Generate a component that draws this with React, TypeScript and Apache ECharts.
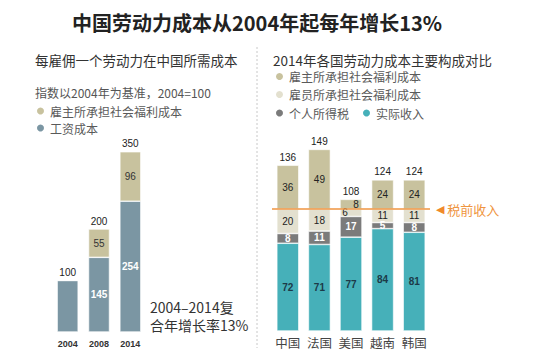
import React, { useEffect, useRef } from "react";
import * as echarts from "echarts";

const leftYears = ["2004", "2008", "2014"];
const leftWages = [100, 145, 254];
const leftWelfare = [0, 55, 96];

const countries = ["中国", "法国", "美国", "越南", "韩国"];
const netIncome = [72, 71, 77, 84, 81];
const incomeTax = [8, 11, 17, 5, 8];
const employeeWelfare = [20, 18, 6, 11, 11];
const employerWelfare = [36, 49, 8, 24, 24];
const pretaxLevel = 100;

const C_KHAKI = "#c8c29e";
const C_LIGHT = "#e3e0cf";
const C_GRAY = "#7b7b7b";
const C_TEAL = "#46b0b9";
const C_SLATE = "#7b96a3";
const C_ORANGE = "#ef9540";

const CJK = "'Noto Sans CJK SC', sans-serif";
const NUM = "'Liberation Sans', Arial, sans-serif";

export default function App() {
  const ref = useRef<HTMLDivElement>(null);
  useEffect(() => {
    if (!ref.current) return;
    const chart = echarts.init(ref.current, null, { renderer: "svg" });
    const leftTotals = leftWages.map((v, i) => v + leftWelfare[i]);
    const rightTotals = countries.map(
      (_, i) => netIncome[i] + incomeTax[i] + employeeWelfare[i] + employerWelfare[i]
    );
    const inLabel = (color: string, bold = false) => ({
      show: true,
      position: "inside" as const,
      color,
      fontSize: 10,
      fontFamily: NUM,
      fontWeight: bold ? ("bold" as const) : ("normal" as const),
    });
    const totalLabel = (totals: number[]) => ({
      show: true,
      position: "top" as const,
      distance: 3,
      color: "#222",
      fontSize: 10,
      fontFamily: NUM,
      formatter: (p: any) => String(totals[p.dataIndex]),
    });
    const seg = { borderColor: "#fff", borderWidth: 0.6 };
    const legendBase = {
      padding: 0,
      itemWidth: 9,
      itemHeight: 9,
      icon: "circle",
      textStyle: { fontSize: 12, color: "#5a5a5a", fontFamily: CJK },
    };
    const noteStyle = {
      fontSize: 14,
      fontWeight: "normal",
      color: "#333",
      fontFamily: CJK,
    };

    chart.setOption({
      animation: false,
      backgroundColor: "#fff",
      textStyle: { fontFamily: CJK },
      title: [
        {
          text: "中国劳动力成本从2004年起每年增长13%",
          left: 72,
          top: 12,
          padding: 0,
          textStyle: { fontSize: 20, fontWeight: "bold", color: "#222", fontFamily: CJK },
        },
        {
          text: "每雇佣一个劳动力在中国所需成本",
          left: 35,
          top: 53,
          padding: 0,
          textStyle: { fontSize: 13.5, fontWeight: "normal", color: "#333", fontFamily: CJK },
        },
        {
          text: "2014年各国劳动力成本主要构成对比",
          left: 273,
          top: 53,
          padding: 0,
          textStyle: { fontSize: 13.5, fontWeight: "normal", color: "#333", fontFamily: CJK },
        },
        {
          text: "指数以2004年为基准，2004=100",
          left: 35,
          top: 86,
          padding: 0,
          textStyle: { fontSize: 12, fontWeight: "normal", color: "#555", fontFamily: CJK },
        },
        { text: "2004–2014复", left: 150, top: 300, padding: 0, textStyle: noteStyle },
        { text: "合年增长率13%", left: 150, top: 318, padding: 0, textStyle: noteStyle },
      ],
      legend: [
        {
          ...legendBase,
          orient: "vertical",
          left: 35,
          top: 105,
          itemGap: 5,
          data: ["雇主所承担社会福利成本", "工资成本"],
        },
        {
          ...legendBase,
          orient: "vertical",
          left: 274,
          top: 70.5,
          itemGap: 6,
          data: ["雇主所承担社会福利成本", "雇员所承担社会福利成本"],
        },
        {
          ...legendBase,
          orient: "horizontal",
          left: 274,
          top: 107,
          itemGap: 12,
          data: ["个人所得税", "实际收入"],
        },
      ],
      grid: [
        { left: 52, width: 94, top: 126, height: 206 },
        { left: 272, width: 158, top: 136, height: 195 },
      ],
      xAxis: [
        {
          type: "category",
          gridIndex: 0,
          data: leftYears,
          axisLine: { show: false },
          axisTick: { show: false },
          axisLabel: {
            interval: 0,
            fontSize: 9,
            fontWeight: "bold",
            color: "#333",
            fontFamily: NUM,
            margin: 7,
          },
        },
        {
          type: "category",
          gridIndex: 1,
          data: countries,
          axisLine: { show: false },
          axisTick: { show: false },
          axisLabel: { interval: 0, fontSize: 12.5, color: "#444", fontFamily: CJK, margin: 5 },
        },
      ],
      yAxis: [
        { type: "value", gridIndex: 0, min: 0, max: 400, show: false },
        { type: "value", gridIndex: 1, min: 0, max: 160, show: false },
      ],
      graphic: [
        {
          type: "line",
          shape: { x1: 257, y1: 47, x2: 257, y2: 348 },
          style: { stroke: "#c8c8c8", lineWidth: 1, lineDash: [2, 2] },
        },
      ],
      series: [
        {
          name: "工资成本",
          type: "bar",
          xAxisIndex: 0,
          yAxisIndex: 0,
          stack: "l",
          barWidth: 21,
          itemStyle: { color: C_SLATE, ...seg },
          label: inLabel("#fff", true),
          data: leftWages.map((v, i) =>
            leftWelfare[i] === 0 ? { value: v, label: { show: false } } : v
          ),
        },
        {
          name: "雇主所承担社会福利成本",
          type: "bar",
          xAxisIndex: 0,
          yAxisIndex: 0,
          stack: "l",
          barWidth: 21,
          itemStyle: { color: C_KHAKI, ...seg },
          label: { ...inLabel("#333"), formatter: (p: any) => (p.value ? String(p.value) : "") },
          data: leftWelfare,
        },
        {
          name: "leftTotal",
          type: "bar",
          xAxisIndex: 0,
          yAxisIndex: 0,
          stack: "l",
          barWidth: 21,
          itemStyle: { color: "transparent" },
          label: totalLabel(leftTotals),
          data: leftTotals.map(() => 0),
        },
        {
          name: "实际收入",
          type: "bar",
          xAxisIndex: 1,
          yAxisIndex: 1,
          stack: "r",
          barWidth: 22,
          itemStyle: { color: C_TEAL, ...seg },
          label: inLabel("#1c3a48", true),
          data: netIncome,
          markLine: {
            silent: true,
            symbol: ["none", "none"],
            lineStyle: { color: C_ORANGE, width: 1.5, type: "solid" },
            label: {
              show: true,
              position: "end",
              distance: 6,
              formatter: "{a|◀}{b| 税前收入}",
              rich: {
                a: { color: "#f08a2a", fontSize: 11, fontFamily: "'DejaVu Sans'" },
                b: { color: C_ORANGE, fontSize: 13, fontFamily: CJK },
              },
            },
            data: [{ yAxis: pretaxLevel }],
          },
        },
        {
          name: "个人所得税",
          type: "bar",
          xAxisIndex: 1,
          yAxisIndex: 1,
          stack: "r",
          barWidth: 22,
          itemStyle: { color: C_GRAY, ...seg },
          label: inLabel("#fff", true),
          data: incomeTax,
        },
        {
          name: "雇员所承担社会福利成本",
          type: "bar",
          xAxisIndex: 1,
          yAxisIndex: 1,
          stack: "r",
          barWidth: 22,
          itemStyle: { color: C_LIGHT, ...seg },
          label: inLabel("#222"),
          data: employeeWelfare.map((v) =>
            v < 8 ? { value: v, label: { offset: [-6, 0] } } : v
          ),
        },
        {
          name: "雇主所承担社会福利成本",
          type: "bar",
          xAxisIndex: 1,
          yAxisIndex: 1,
          stack: "r",
          barWidth: 22,
          itemStyle: { color: C_KHAKI, ...seg },
          label: inLabel("#222"),
          data: employerWelfare.map((v) =>
            v < 10 ? { value: v, label: { offset: [5, 0] } } : v
          ),
        },
        {
          name: "rightTotal",
          type: "bar",
          xAxisIndex: 1,
          yAxisIndex: 1,
          stack: "r",
          barWidth: 22,
          itemStyle: { color: "transparent" },
          label: totalLabel(rightTotals),
          data: rightTotals.map(() => 0),
        },
      ],
    });
    return () => chart.dispose();
  }, []);
  return <div ref={ref} style={{ width: 539, height: 364, margin: -8 }} />;
}
